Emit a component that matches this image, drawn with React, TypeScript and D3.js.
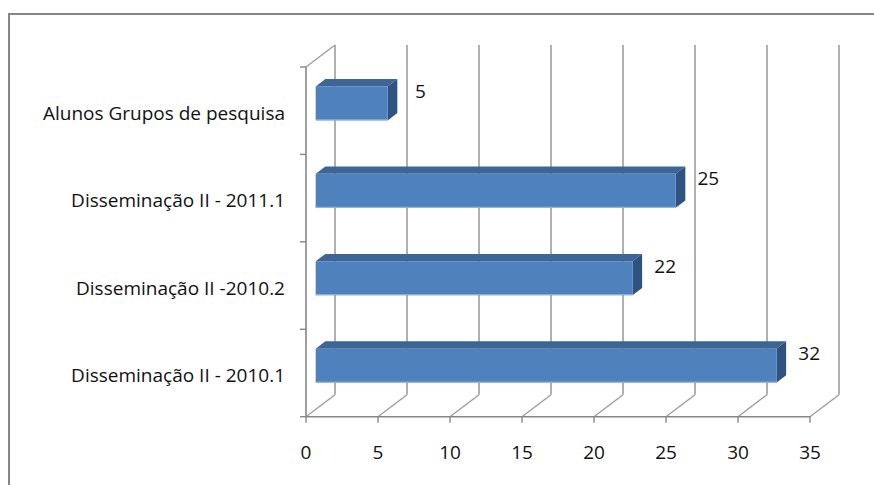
import React from 'react';
import * as d3 from 'd3';

// categories from top to bottom, as shown
const categories = [
  'Alunos Grupos de pesquisa',
  'Disseminação II - 2011.1',
  'Disseminação II -2010.2',
  'Disseminação II - 2010.1',
];
const values = [5, 25, 22, 32];
const xTicks = [0, 5, 10, 15, 20, 25, 30, 35];

const W = 874;
const H = 485;
// front plane of the 3d box
const left = 306, right = 810, top = 67, bottom = 416.7;
// depth of the box (back wall offset)
const DX = 29, DY = -22;
const font = '"Open Sans", sans-serif';
const fs = 19;

const App = () => {
  const x = d3.scaleLinear().domain([0, 35]).range([left, right]);
  const y = d3.scaleBand().domain(categories).range([top, bottom]);
  const barH = 34;
  // bars sit in the middle third of the depth
  const fdx = DX / 3, fdy = DY / 3;
  const bdx = DX / 3, bdy = DY / 3;

  const grid = '#9d9d9d';
  const axis = '#878787';

  return (
    <svg width={W} height={H} style={{ position: 'absolute', left: 0, top: 0 }}>
      <rect x={9} y={14} width={900} height={500} fill="white" stroke="#868686" strokeWidth={2} />

      {/* back wall gridlines and floor diagonals */}
      {xTicks.map(t => (
        <g key={'g' + t}>
          <line x1={x(t) + DX} x2={x(t) + DX} y1={top + DY} y2={bottom + DY} stroke={grid} strokeWidth={1.6} />
          <line x1={x(t)} y1={bottom} x2={x(t) + DX} y2={bottom + DY} stroke={grid} strokeWidth={1.4} />
          <line x1={x(t)} x2={x(t)} y1={bottom} y2={bottom + 6} stroke={axis} strokeWidth={1.4} />
        </g>
      ))}

      {/* left wall */}
      <line x1={left} x2={left} y1={top} y2={bottom} stroke={axis} strokeWidth={1.6} />
      <line x1={left} y1={top} x2={left + DX} y2={top + DY} stroke={grid} strokeWidth={1.4} />
      {categories.concat(['_end']).map((c, i) => {
        const yy = top + i * y.bandwidth();
        return <line key={'yt' + i} x1={left - 6} x2={left} y1={yy} y2={yy} stroke={axis} strokeWidth={1.4} />;
      })}

      {/* floor front edge */}
      <line x1={left} x2={right} y1={bottom} y2={bottom} stroke={axis} strokeWidth={1.6} />

      {/* bars */}
      {categories.map((c, i) => {
        const cy = (y(c) ?? 0) + y.bandwidth() / 2 + fdy;
        const y0 = cy - barH / 2;
        const y1 = cy + barH / 2;
        const x0 = x(0) + fdx;
        const x1 = x(values[i]) + fdx;
        const topFace = `${x0},${y0} ${x0 + bdx},${y0 + bdy} ${x1 + bdx},${y0 + bdy} ${x1},${y0}`;
        const sideFace = `${x1},${y0} ${x1 + bdx},${y0 + bdy} ${x1 + bdx},${y1 + bdy} ${x1},${y1}`;
        return (
          <g key={'b' + i}>
            <polygon points={topFace} fill="#3d6697" />
            <polygon points={sideFace} fill="#30527f" />
            <rect x={x0} y={y0} width={x1 - x0} height={y1 - y0} fill="#4f81bd" />
            <line x1={x0} x2={x1} y1={y1 - 0.5} y2={y1 - 0.5} stroke="#9bbbe0" strokeWidth={1} />
            <text x={x1 + bdx + 23} y={y0 + bdy + 12} fontFamily={font} fontSize={fs} fill="#111"
              textAnchor="middle" dominantBaseline="central">{values[i]}</text>
          </g>
        );
      })}

      {/* category labels */}
      {categories.map(c => (
        <text key={'c' + c} x={285} y={(y(c) ?? 0) + y.bandwidth() / 2 + 2} fontFamily={font} fontSize={fs}
          fill="#111" textAnchor="end" dominantBaseline="central">{c}</text>
      ))}

      {/* x tick labels */}
      {xTicks.map(t => (
        <text key={'xl' + t} x={x(t)} y={452} fontFamily={font} fontSize={fs} fill="#111"
          textAnchor="middle" dominantBaseline="central">{t}</text>
      ))}
    </svg>
  );
};

export default App;
